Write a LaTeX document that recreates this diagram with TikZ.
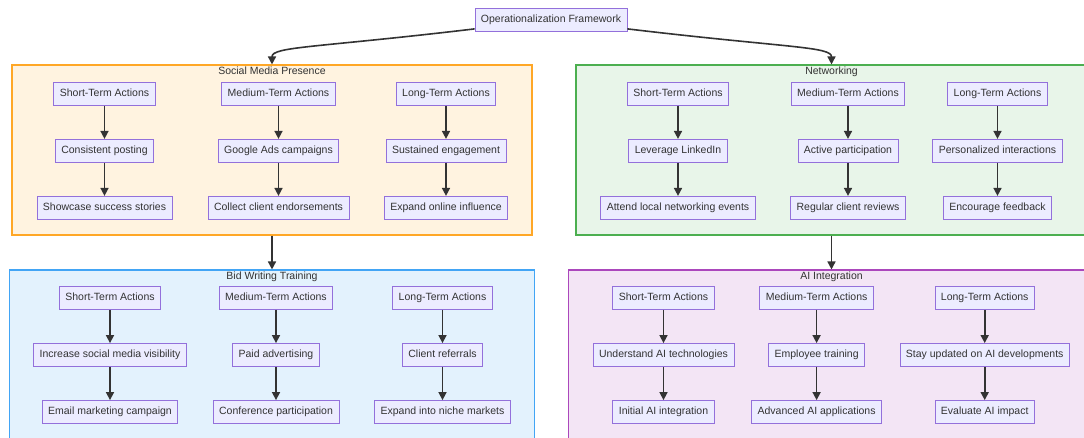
\documentclass[tikz,border=0pt]{standalone}
\usepackage{fontspec}
\setmainfont{Liberation Sans}
\usepackage{xcolor}
\usepackage{tikz}
\usetikzlibrary{arrows.meta,positioning}

\definecolor{txt}{HTML}{333333}
\definecolor{actfill}{HTML}{ECECFF}
\definecolor{actline}{HTML}{9370DB}
\definecolor{smpfill}{HTML}{FFF3E0}
\definecolor{smpline}{HTML}{FFA726}
\definecolor{netfill}{HTML}{E8F5E9}
\definecolor{netline}{HTML}{4CAF50}
\definecolor{bwtfill}{HTML}{E3F2FD}
\definecolor{bwtline}{HTML}{42A5F5}
\definecolor{aifill}{HTML}{F3E5F5}
\definecolor{ailine}{HTML}{AB47BC}

\begin{document}
\begin{tikzpicture}[
  x=1pt, y=-1pt,
  act/.style={
    draw=actline,
    fill=actfill,
    line width=0.8pt,
    text=txt,
    inner xsep=6pt,
    minimum height=23pt,
    text height=7.6pt,
    text depth=2.2pt
  },
  cluster/.style={
    draw,
    line width=1.1pt,
    minimum width=520pt,
    minimum height=170pt,
    inner sep=0pt
  },
  ctitle/.style={text=txt, inner sep=0pt, text height=7.6pt, text depth=2.2pt},
  arr/.style={-{Triangle[length=8pt,width=8pt]}, line width=1.6pt, draw=txt},
  node distance=33.2pt,
  font=\fontsize{10.5}{12}\selectfont
]
\useasboundingbox (0,0) rectangle (1084,438);

% groups
\node[cluster, draw=smpline, fill=smpfill] (smp) at (272,150) {};
\node[cluster, draw=netline, fill=netfill, minimum width=511pt] (net) at (831.5,150) {};
\node[cluster, draw=bwtline, fill=bwtfill, minimum width=525pt] (bwt) at (272,355) {};
\node[cluster, draw=ailine, fill=aifill, minimum width=526pt] (ai) at (831.5,355) {};

\node[ctitle, below=2.5pt of smp.north] (smp-t) {Social Media Presence};
\node[ctitle, below=2.5pt of net.north] (net-t) {Networking};
\node[ctitle, below=2.5pt of bwt.north] (bwt-t) {Bid Writing Training};
\node[ctitle, below=2.5pt of ai.north] (ai-t) {AI Integration};

\node[act] (top) at (551,20) {Operationalization Framework};

% Social Media Presence
\node[act] (smp-s) at (104.5,93.8) {Short-Term Actions};
\node[act, below=of smp-s] (smp-s1) {Consistent posting};
\node[act, below=of smp-s1] (smp-s2) {Showcase success stories};
\node[act] (smp-m) at (278.5,93.8) {Medium-Term Actions};
\node[act, below=of smp-m] (smp-m1) {Google Ads campaigns};
\node[act, below=of smp-m1] (smp-m2) {Collect client endorsements};
\node[act] (smp-l) at (446,93.8) {Long-Term Actions};
\node[act, below=of smp-l] (smp-l1) {Sustained engagement};
\node[act, below=of smp-l1] (smp-l2) {Expand online influence};

% Networking
\node[act] (net-s) at (678,93.8) {Short-Term Actions};
\node[act, below=of net-s] (net-s1) {Leverage LinkedIn};
\node[act, below=of net-s1] (net-s2) {Attend local networking events};
\node[act] (net-m) at (848,93.8) {Medium-Term Actions};
\node[act, below=of net-m] (net-m1) {Active participation};
\node[act, below=of net-m1] (net-m2) {Regular client reviews};
\node[act] (net-l) at (997.5,93.8) {Long-Term Actions};
\node[act, below=of net-l] (net-l1) {Personalized interactions};
\node[act, below=of net-l1] (net-l2) {Encourage feedback};

% Bid Writing Training
\node[act] (bwt-s) at (110,298) {Short-Term Actions};
\node[act, below=of bwt-s] (bwt-s1) {Increase social media visibility};
\node[act, below=of bwt-s1] (bwt-s2) {Email marketing campaign};
\node[act] (bwt-m) at (276,298) {Medium-Term Actions};
\node[act, below=of bwt-m] (bwt-m1) {Paid advertising};
\node[act, below=of bwt-m1] (bwt-m2) {Conference participation};
\node[act] (bwt-l) at (442.5,298) {Long-Term Actions};
\node[act, below=of bwt-l] (bwt-l1) {Client referrals};
\node[act, below=of bwt-l1] (bwt-l2) {Expand into niche markets};

% AI Integration
\node[act] (ai-s) at (663.5,298) {Short-Term Actions};
\node[act, below=of ai-s] (ai-s1) {Understand AI technologies};
\node[act, below=of ai-s1] (ai-s2) {Initial AI integration};
\node[act] (ai-m) at (816.6,298) {Medium-Term Actions};
\node[act, below=of ai-m] (ai-m1) {Employee training};
\node[act, below=of ai-m1] (ai-m2) {Advanced AI applications};
\node[act] (ai-l) at (984.7,298) {Long-Term Actions};
\node[act, below=of ai-l] (ai-l1) {Stay updated on AI developments};
\node[act, below=of ai-l1] (ai-l2) {Evaluate AI impact};

% connectors
\draw[arr] ([yshift=3pt]top.south west) .. controls +(-160,19) and +(0,-18) .. (smp.north);
\draw[arr] ([yshift=3pt]top.south east) .. controls +(160,19) and +(0,-18) .. (net.north);
\draw[arr] (smp) -- (bwt);
\draw[arr] (net) -- (ai);

\draw[arr] (smp-s) -- (smp-s1);
\draw[arr] (smp-s1) -- (smp-s2);
\draw[arr] (smp-m) -- (smp-m1);
\draw[arr] (smp-m1) -- (smp-m2);
\draw[arr] (smp-l) -- (smp-l1);
\draw[arr] (smp-l1) -- (smp-l2);

\draw[arr] (net-s) -- (net-s1);
\draw[arr] (net-s1) -- (net-s2);
\draw[arr] (net-m) -- (net-m1);
\draw[arr] (net-m1) -- (net-m2);
\draw[arr] (net-l) -- (net-l1);
\draw[arr] (net-l1) -- (net-l2);

\draw[arr] (bwt-s) -- (bwt-s1);
\draw[arr] (bwt-s1) -- (bwt-s2);
\draw[arr] (bwt-m) -- (bwt-m1);
\draw[arr] (bwt-m1) -- (bwt-m2);
\draw[arr] (bwt-l) -- (bwt-l1);
\draw[arr] (bwt-l1) -- (bwt-l2);

\draw[arr] (ai-s) -- (ai-s1);
\draw[arr] (ai-s1) -- (ai-s2);
\draw[arr] (ai-m) -- (ai-m1);
\draw[arr] (ai-m1) -- (ai-m2);
\draw[arr] (ai-l) -- (ai-l1);
\draw[arr] (ai-l1) -- (ai-l2);
\end{tikzpicture}
\end{document}
